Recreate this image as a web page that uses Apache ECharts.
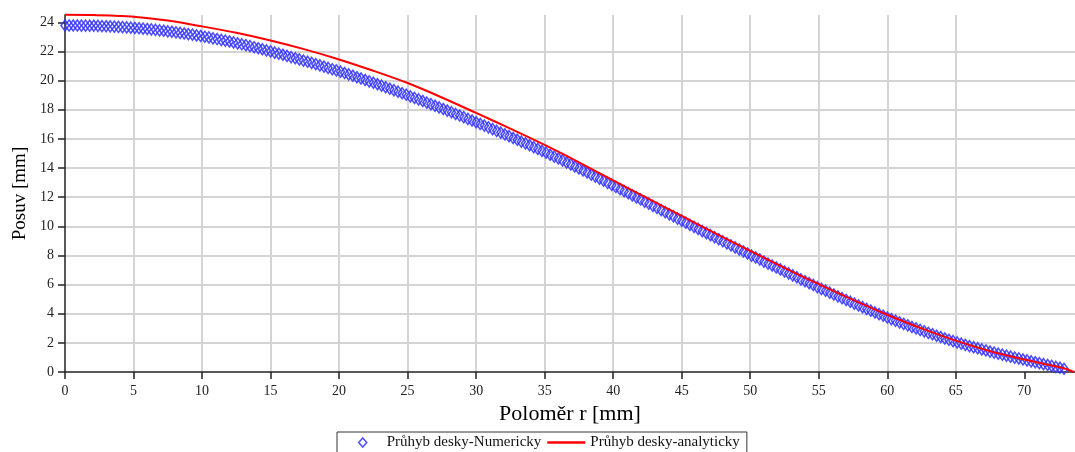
<!DOCTYPE html>
<html>
<head>
<meta charset="utf-8">
<script src="https://cdn.jsdelivr.net/npm/echarts@6/dist/echarts.min.js"></script>
<style>html,body{margin:0;padding:0;background:#fff}#c{width:1075px;height:452px}</style>
</head>
<body>
<div id="c"></div>
<script>
// Numerical solution (blue diamonds): radius [mm] and deflection [mm]
const rNum = [
0,0.3,0.6,0.9,1.2,1.5,1.8,2.1,2.4,2.7,
3,3.3,3.6,3.9,4.2,4.5,4.8,5.1,5.4,5.7,
6,6.3,6.6,6.9,7.2,7.5,7.8,8.1,8.4,8.7,
9,9.3,9.6,9.9,10.2,10.5,10.8,11.1,11.4,11.7,
12,12.3,12.6,12.9,13.2,13.5,13.8,14.1,14.4,14.7,
15,15.3,15.6,15.9,16.2,16.5,16.8,17.1,17.4,17.7,
18,18.3,18.6,18.9,19.2,19.5,19.8,20.1,20.4,20.7,
21,21.3,21.6,21.9,22.2,22.5,22.8,23.1,23.4,23.7,
24,24.3,24.6,24.9,25.2,25.5,25.8,26.1,26.4,26.7,
27,27.3,27.6,27.9,28.2,28.5,28.8,29.1,29.4,29.7,
30,30.3,30.6,30.9,31.2,31.5,31.8,32.1,32.4,32.7,
33,33.3,33.6,33.9,34.2,34.5,34.8,35.1,35.4,35.7,
36,36.3,36.6,36.9,37.2,37.5,37.8,38.1,38.4,38.7,
39,39.3,39.6,39.9,40.2,40.5,40.8,41.1,41.4,41.7,
42,42.3,42.6,42.9,43.2,43.5,43.8,44.1,44.4,44.7,
45,45.3,45.6,45.9,46.2,46.5,46.8,47.1,47.4,47.7,
48,48.3,48.6,48.9,49.2,49.5,49.8,50.1,50.4,50.7,
51,51.3,51.6,51.9,52.2,52.5,52.8,53.1,53.4,53.7,
54,54.3,54.6,54.9,55.2,55.5,55.8,56.1,56.4,56.7,
57,57.3,57.6,57.9,58.2,58.5,58.8,59.1,59.4,59.7,
60,60.3,60.6,60.9,61.2,61.5,61.8,62.1,62.4,62.7,
63,63.3,63.6,63.9,64.2,64.5,64.8,65.1,65.4,65.7,
66,66.3,66.6,66.9,67.2,67.5,67.8,68.1,68.4,68.7,
69,69.3,69.6,69.9,70.2,70.5,70.8,71.1,71.4,71.7,
72,72.3,72.6,72.9
];
const wNum = [
23.78,23.78,23.78,23.78,23.77,23.77,23.76,23.76,23.75,23.74,
23.73,23.72,23.70,23.69,23.67,23.65,23.63,23.61,23.59,23.56,
23.54,23.51,23.48,23.45,23.42,23.38,23.35,23.31,23.27,23.23,
23.19,23.15,23.10,23.06,23.01,22.96,22.90,22.85,22.79,22.74,
22.68,22.62,22.55,22.49,22.43,22.36,22.29,22.22,22.15,22.07,
22.00,21.92,21.85,21.77,21.69,21.61,21.53,21.45,21.37,21.29,
21.21,21.13,21.04,20.96,20.87,20.78,20.70,20.61,20.52,20.42,
20.33,20.23,20.14,20.04,19.94,19.85,19.75,19.65,19.54,19.44,
19.34,19.24,19.13,19.03,18.92,18.81,18.71,18.60,18.49,18.38,
18.27,18.16,18.05,17.94,17.83,17.71,17.60,17.49,17.37,17.26,
17.14,17.02,16.91,16.79,16.67,16.55,16.43,16.31,16.19,16.06,
15.94,15.81,15.69,15.56,15.43,15.31,15.18,15.05,14.91,14.78,
14.65,14.52,14.38,14.25,14.11,13.97,13.83,13.69,13.55,13.41,
13.27,13.13,12.98,12.84,12.70,12.55,12.41,12.27,12.12,11.98,
11.84,11.69,11.55,11.40,11.26,11.11,10.97,10.82,10.68,10.53,
10.39,10.25,10.10,9.96,9.82,9.67,9.53,9.39,9.25,9.11,
8.97,8.83,8.69,8.55,8.41,8.27,8.13,7.99,7.86,7.72,
7.58,7.44,7.31,7.17,7.04,6.90,6.77,6.63,6.50,6.36,
6.23,6.10,5.97,5.83,5.70,5.58,5.45,5.32,5.19,5.07,
4.94,4.82,4.69,4.57,4.45,4.33,4.21,4.09,3.97,3.86,
3.74,3.63,3.52,3.41,3.30,3.20,3.09,2.99,2.89,2.79,
2.69,2.59,2.49,2.40,2.30,2.21,2.12,2.03,1.95,1.86,
1.78,1.70,1.63,1.55,1.48,1.40,1.33,1.26,1.19,1.12,
1.05,0.99,0.93,0.86,0.80,0.73,0.67,0.61,0.54,0.48,
0.42,0.35,0.29,0.22
];
// Analytical solution (red line)
const rAna = [0,2,4,5,7.5,10,12.5,15,17.5,20,22.5,25,27.5,30,32.5,35,37.5,40,42.5,45,47.5,50,52.5,55,57.5,60,62.5,65,67.5,70,72,73,73.6];
const wAna = [24.52,24.50,24.43,24.38,24.12,23.72,23.28,22.75,22.14,21.45,20.67,19.83,18.84,17.78,16.70,15.58,14.39,13.15,11.93,10.71,9.50,8.31,7.15,6.03,4.95,3.93,2.99,2.15,1.43,0.86,0.45,0.22,0.0];
// Tick labels
const xTicks = [0,5,10,15,20,25,30,35,40,45,50,55,60,65,70];
const yTicks = [0,2,4,6,8,10,12,14,16,18,20,22,24];
const seriesNames = ['Průhyb desky-Numericky','Průhyb desky-analyticky'];
const axisNames = {x:'Poloměr r [mm]', y:'Posuv [mm]'};

const serif = 'Liberation Serif';
const blue = '#3030ff';
const numData = rNum.map((r,i)=>[r,wNum[i]]);
const anaData = rAna.map((r,i)=>[r,wAna[i]]);

const chart = echarts.init(document.getElementById('c'), null, {renderer:'canvas'});
chart.setOption({
  animation:false,
  backgroundColor:'#fff',
  grid:{left:65, right:0, top:15, bottom:80},
  legend:{
    left:337, top:432, orient:'horizontal',
    itemWidth:38, itemHeight:9, itemGap:6,
    padding:[3,7,6,6],
    borderColor:'#333', borderWidth:1, backgroundColor:'#fff', borderRadius:0,
    symbolKeepAspect:true,
    textStyle:{fontFamily:serif, fontSize:15, color:'#111'},
    data:[
      {name:seriesNames[0], icon:'path://M0,4.5 L0,4.5 M38,4.5 L38,4.5 M19,0 L23,4.5 L19,9 L15,4.5 Z',
       itemStyle:{color:'rgba(255,255,255,0)', borderColor:blue, borderWidth:1.5}},
      {name:seriesNames[1], icon:'path://M0,0 L38,0 L38,2.6 L0,2.6 Z',
       itemStyle:{color:'#ff0000', borderWidth:0}}
    ]
  },
  xAxis:{
    type:'value', min:0, max:73.7, interval:5,
    name:axisNames.x, nameLocation:'middle', nameGap:30,
    nameTextStyle:{fontFamily:serif, fontSize:22, color:'#000'},
    axisLine:{show:true, onZero:false, lineStyle:{color:'#222', width:1.5}},
    axisTick:{show:true, length:7, customValues:xTicks, lineStyle:{color:'#222', width:1.5}},
    axisLabel:{customValues:xTicks, margin:12, fontFamily:serif, fontSize:14, color:'#222'},
    splitLine:{show:true, showMinLine:false, showMaxLine:false, lineStyle:{color:'#d4d4d4', width:2}}
  },
  yAxis:{
    type:'value', min:0, max:24.5, interval:2,
    name:axisNames.y, nameLocation:'middle', nameGap:34, nameRotate:90,
    nameTextStyle:{fontFamily:serif, fontSize:19, color:'#000'},
    axisLine:{show:true, onZero:false, lineStyle:{color:'#222', width:1.5}},
    axisTick:{show:true, length:7, customValues:yTicks, lineStyle:{color:'#222', width:1.5}},
    axisLabel:{customValues:yTicks, margin:11, fontFamily:serif, fontSize:14, color:'#222'},
    splitLine:{show:true, showMinLine:false, showMaxLine:false, lineStyle:{color:'#d4d4d4', width:2}}
  },
  series:[
    {
      name:seriesNames[0], type:'scatter', data:numData,
      symbol:'diamond', symbolSize:[8,11], clip:false, z:2,
      itemStyle:{color:'rgba(255,255,255,0)', borderColor:blue, borderWidth:1.6, opacity:0.85}
    },
    {
      name:seriesNames[1], type:'line', data:anaData,
      symbol:'none', smooth:0.3, clip:false, z:3,
      lineStyle:{color:'#ff0000', width:2},
      itemStyle:{color:'#ff0000'}
    }
  ]
});
</script>
</body>
</html>
